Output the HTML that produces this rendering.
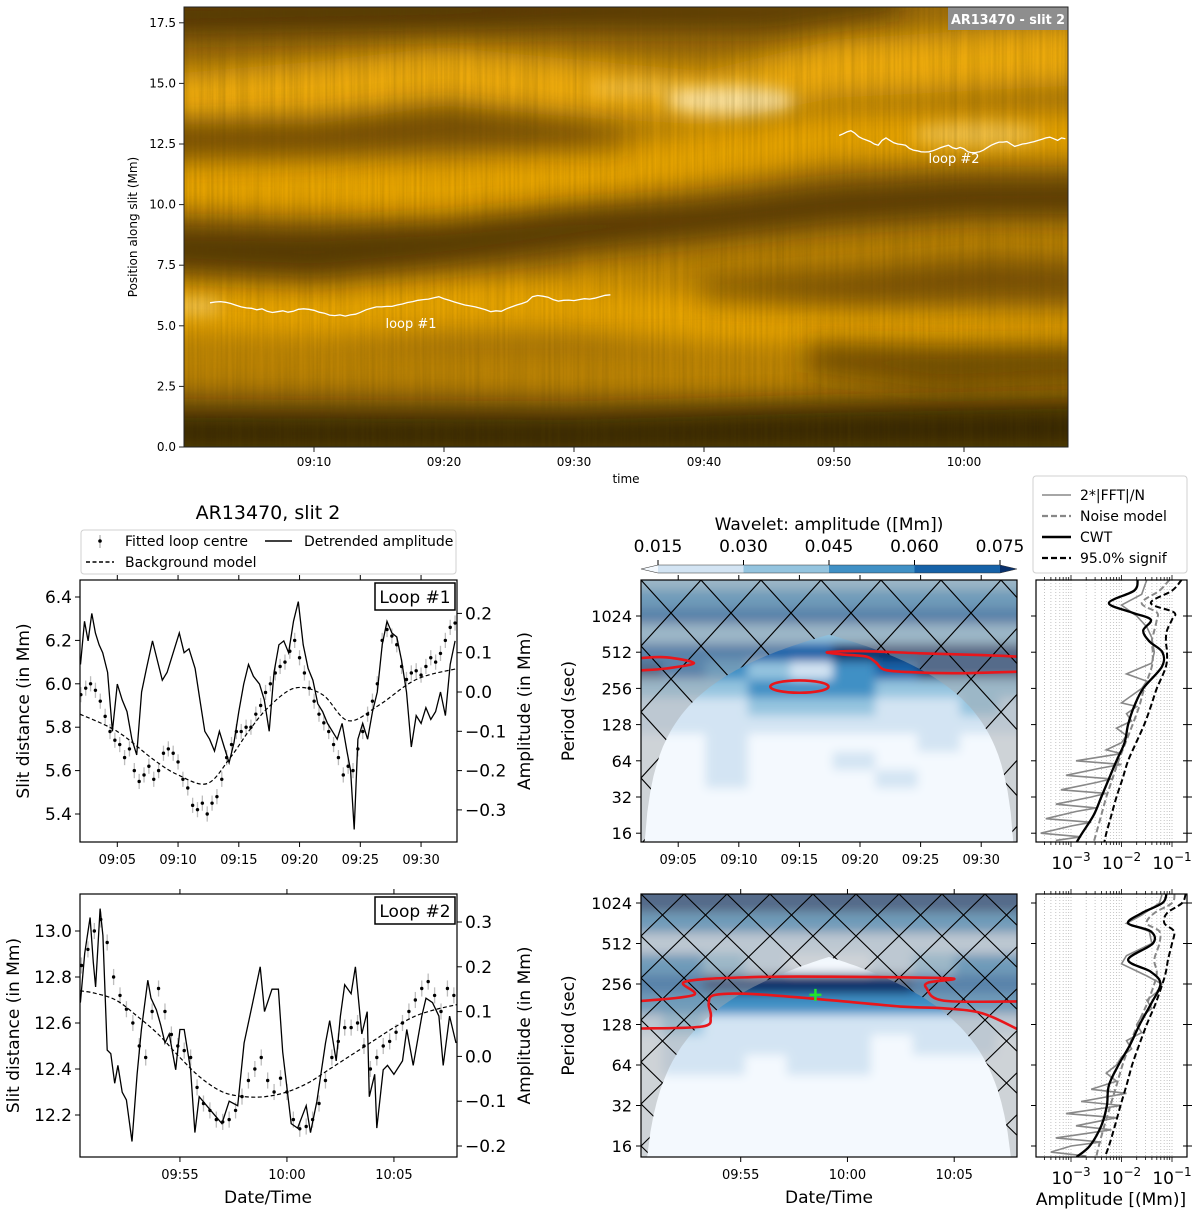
<!DOCTYPE html>
<html><head><meta charset="utf-8">
<style>
html,body{margin:0;padding:0;background:#fff;}
svg{display:block;font-family:"DejaVu Sans","Liberation Sans",sans-serif;}
</style></head>
<body>
<svg id="fig" width="1200" height="1213" viewBox="0 0 1200 1213" xmlns="http://www.w3.org/2000/svg">
<defs>
  <filter id="blurBig" filterUnits="userSpaceOnUse" x="0" y="-100" width="1200" height="700"><feGaussianBlur stdDeviation="14"/></filter>
  <filter id="blurW" filterUnits="userSpaceOnUse" x="0" y="-100" width="1200" height="700"><feGaussianBlur stdDeviation="8"/></filter>
  <filter id="blurWav" filterUnits="userSpaceOnUse" x="500" y="500" width="700" height="713"><feGaussianBlur stdDeviation="5"/></filter>
  <filter id="streaks" x="0" y="0" width="100%" height="100%">
    <feTurbulence type="fractalNoise" baseFrequency="0.35 0.006" numOctaves="2" seed="4"/>
    <feColorMatrix type="matrix" values="0 0 0 0 0.1  0 0 0 0 0.06  0 0 0 0 0  0 0 0 -1.1 0.75"/>
  </filter>
  <clipPath id="clipTop"><rect x="184" y="7" width="884" height="440"/></clipPath>
  <clipPath id="clipL1"><rect x="80" y="580" width="377" height="262"/></clipPath>
  <clipPath id="clipL2"><rect x="80" y="894" width="377" height="263"/></clipPath>
  <clipPath id="clipW1"><rect x="641" y="580" width="376" height="262"/></clipPath>
  <clipPath id="clipW2"><rect x="641" y="894" width="376" height="263"/></clipPath>
  <clipPath id="clipS1"><rect x="1036" y="580" width="151" height="262"/></clipPath>
  <clipPath id="clipS2"><rect x="1036" y="894" width="151" height="263"/></clipPath>
  <pattern id="hatch1" patternUnits="userSpaceOnUse" x="641" y="580" width="60" height="66">
    <path d="M0,0 L60,66 M60,0 L0,66" stroke="#000" stroke-width="1.1" fill="none"/>
  </pattern>
  <pattern id="hatch2" patternUnits="userSpaceOnUse" x="641" y="894" width="43" height="42">
    <path d="M0,0 L43,42 M43,0 L0,42" stroke="#000" stroke-width="1.1" fill="none"/>
  </pattern>
</defs>
</svg>
<script>
// ---------------- DATA ----------------
const loop1Times = [2.0,2.4,2.8,3.2,3.6,4.0,4.4,4.8,5.2,5.6,6.0,6.4,6.8,7.2,7.6,8.0,8.4,8.8,9.2,9.6,10.0,10.4,10.8,11.2,11.6,12.0,12.4,12.8,13.2,13.6,14.0,14.4,14.8,15.2,15.6,16.0,16.4,16.8,17.2,17.6,18.0,18.4,18.8,19.2,19.6,20.0,20.4,20.8,21.2,21.6,22.0,22.4,22.8,23.2,23.6,24.0,24.4,24.8,25.2,25.6,26.0,26.4,26.8,27.2,27.6,28.0,28.4,28.8,29.2,29.6,30.0,30.4,30.8,31.2,31.6,32.0,32.4,32.8];
const loop1Pos = [5.95,5.98,6.00,5.97,5.92,5.85,5.78,5.74,5.72,5.66,5.70,5.60,5.55,5.58,5.62,5.56,5.60,5.68,5.70,5.68,5.64,5.56,5.52,5.44,5.42,5.45,5.40,5.45,5.48,5.56,5.66,5.72,5.78,5.78,5.80,5.80,5.86,5.90,5.96,6.00,6.05,6.08,6.10,6.15,6.20,6.12,6.05,5.98,5.92,5.86,5.82,5.78,5.72,5.66,5.58,5.62,5.60,5.70,5.78,5.86,5.92,6.00,6.20,6.25,6.22,6.18,6.08,6.02,6.05,6.06,6.04,6.08,6.12,6.10,6.14,6.20,6.26,6.28];
const loop1BgTimes = [1.93,5,8,10,12.4,14.3,15.8,17.4,19.6,21.9,24,26.5,29.6,32.95];
const loop1Bg = [5.86,5.78,5.65,5.58,5.54,5.66,5.78,5.89,5.98,5.95,5.83,5.90,6.02,6.07];
const loop1DetT = [1.97,2.3,2.6,2.9,3.2,3.5,3.8,4.2,4.6,5.0,5.4,5.8,6.2,6.6,7.0,7.4,7.9,8.3,8.7,9.1,9.6,10.1,10.5,10.9,11.4,11.8,12.2,12.6,13.0,13.4,13.8,14.2,14.6,15.0,15.4,15.8,16.2,16.7,17.1,17.5,17.9,18.3,18.7,19.1,19.5,19.9,20.3,20.7,21.1,21.5,21.9,22.3,22.7,23.1,23.5,23.9,24.2,24.5,24.8,25.2,25.6,26.0,26.4,26.8,27.2,27.6,28.0,28.4,28.8,29.2,29.6,30.0,30.4,30.8,31.2,31.6,32.0,32.4,32.8];
const loop1Det = [0.07,0.18,0.13,0.2,0.15,0.12,0.1,0.05,-0.10,0.02,-0.02,-0.05,-0.12,-0.16,0.0,0.06,0.13,0.08,0.03,0.05,0.10,0.15,0.10,0.11,0.06,-0.02,-0.10,-0.12,-0.15,-0.10,-0.14,-0.18,-0.13,-0.05,0.02,0.07,0.04,0.02,-0.02,-0.10,0.05,0.12,0.13,0.10,0.18,0.23,0.12,0.06,0.03,-0.03,-0.05,-0.08,-0.10,-0.12,-0.08,-0.15,-0.20,-0.35,-0.12,-0.08,-0.12,-0.05,0.0,0.12,0.18,0.15,0.14,0.08,0.0,-0.14,-0.06,-0.08,-0.04,-0.07,-0.05,0.0,-0.06,0.07,0.13];
const loop2Times = [50.4,50.7,51.0,51.3,51.6,51.9,52.2,52.5,52.8,53.1,53.4,53.7,54.0,54.3,54.6,54.9,55.2,55.5,55.8,56.1,56.4,56.7,57.0,57.3,57.6,57.9,58.2,58.5,58.8,59.1,59.4,59.7,60.0,60.3,60.6,60.9,61.2,61.5,61.8,62.1,62.4,62.7,63.0,63.3,63.6,63.9,64.2,64.5,64.8,65.1,65.4,65.7,66.0,66.3,66.6,66.9,67.2,67.5,67.8];
const loop2Pos = [12.85,12.92,13.00,13.05,12.95,12.80,12.72,12.66,12.60,12.50,12.45,12.65,12.75,12.65,12.55,12.50,12.48,12.45,12.32,12.25,12.22,12.18,12.17,12.18,12.22,12.28,12.35,12.40,12.45,12.35,12.30,12.36,12.30,12.18,12.14,12.15,12.18,12.25,12.35,12.45,12.52,12.58,12.58,12.60,12.50,12.40,12.45,12.50,12.52,12.56,12.60,12.65,12.70,12.75,12.78,12.72,12.65,12.75,12.72];
const loop2BgTimes = [50.33,51,52,53,54,55,56,57,58,59,60,61,62,63,64,65,66,67,67.94];
const loop2Bg = [12.74,12.73,12.70,12.63,12.55,12.45,12.36,12.30,12.28,12.28,12.30,12.34,12.40,12.46,12.52,12.58,12.63,12.66,12.68];
const loop2DetT = [50.35,50.55,50.8,50.95,51.06,51.27,51.4,51.6,51.77,51.95,52.1,52.3,52.5,52.76,53.0,53.2,53.5,53.65,53.9,54.1,54.3,54.5,54.8,55.0,55.2,55.5,55.7,55.9,56.25,56.6,56.96,57.3,57.7,58.0,58.4,58.75,58.95,59.3,59.6,59.8,60.2,60.5,60.9,61.1,61.4,61.8,62.0,62.3,62.5,62.7,63.0,63.2,63.5,63.75,63.85,64.1,64.2,64.5,64.7,65.0,65.4,65.6,65.9,66.3,66.5,66.8,67.1,67.3,67.6,67.9];
const loop2Det = [0.12,0.23,0.31,0.21,0.155,0.33,0.27,0.014,0.006,-0.06,-0.02,-0.08,-0.097,-0.19,-0.04,0.06,0.17,0.13,0.104,0.07,0.03,0.05,-0.03,0.06,0.06,-0.03,-0.17,-0.09,-0.11,-0.13,-0.15,-0.10,-0.11,0.03,0.12,0.2,0.1,0.15,0.15,0.01,-0.15,-0.16,-0.11,-0.17,-0.1,0.03,0.08,-0.01,0.09,0.16,0.14,0.2,0.05,0.1,-0.09,-0.04,-0.16,-0.03,-0.02,-0.04,-0.01,0.06,-0.02,0.09,0.13,0.12,0.09,-0.02,0.09,0.03];

const wavRows = [11,10.5,10,9.5,9,8.5,8,7.5,7,6.5,6,5.5,5,4.5,4,3.5];
const wav1Cols = [2,5.5,9,12.5,16,19.5,23,26.5,30,33];
const wav1Amp = [
 [.04,.04,.04,.04,.04,.04,.04,.04,.04,.04],
 [.05,.05,.05,.05,.05,.05,.05,.05,.05,.05],
 [.065,.065,.065,.065,.065,.065,.065,.065,.065,.065],
 [.035,.035,.04,.04,.04,.04,.04,.04,.04,.04],
 [.065,.065,.065,.065,.07,.08,.08,.08,.08,.08],
 [.08,.07,.05,.04,.02,.05,.07,.08,.08,.08],
 [.03,.035,.04,.045,.05,.045,.035,.03,.03,.03],
 [.02,.02,.02,.03,.03,.03,.02,.02,.03,.02],
 [.015,.015,.02,.02,.02,.02,.02,.015,.015,.015],
 [.01,.012,.02,.01,.01,.01,.01,.02,.01,.01],
 [.01,.01,.02,.01,.01,.02,.01,.01,.01,.01],
 [.01,.01,.02,.01,.01,.01,.02,.01,.01,.01],
 [.01,.01,.01,.01,.01,.01,.01,.01,.01,.01],
 [.01,.01,.01,.01,.01,.01,.01,.01,.01,.01],
 [.01,.01,.01,.01,.01,.01,.01,.01,.01,.01],
 [.01,.01,.01,.01,.01,.01,.01,.01,.01,.01]];
const wav2Cols = [50.33,52.3,54.2,56.2,58.1,60.1,62.1,64.0,66.0,67.94];
const wav2Amp = [
 [.08,.08,.08,.08,.08,.08,.08,.08,.08,.08],
 [.08,.08,.08,.08,.08,.08,.08,.08,.08,.08],
 [.075,.075,.075,.075,.075,.075,.075,.075,.075,.075],
 [.05,.05,.05,.05,.05,.05,.05,.05,.05,.05],
 [.02,.02,.02,.02,.02,.02,.02,.02,.02,.02],
 [.05,.05,.04,.02,.01,.01,.02,.04,.05,.05],
 [.065,.07,.075,.08,.08,.08,.075,.07,.065,.065],
 [.05,.05,.05,.055,.05,.05,.05,.05,.045,.045],
 [.02,.03,.02,.02,.02,.015,.02,.02,.02,.02],
 [.01,.02,.02,.015,.02,.02,.01,.02,.02,.01],
 [.01,.02,.02,.01,.02,.02,.01,.01,.01,.01],
 [.01,.01,.01,.01,.01,.01,.01,.01,.01,.01],
 [.01,.01,.01,.01,.01,.01,.01,.01,.01,.01],
 [.01,.01,.01,.01,.01,.01,.01,.01,.01,.01],
 [.01,.01,.01,.01,.01,.01,.01,.01,.01,.01],
 [.01,.01,.01,.01,.01,.01,.01,.01,.01,.01]];
const sig1A_t = [1.93,4,6.3,4,1.93];
const sig1A_p = [8.84,8.86,8.7,8.55,8.5];
const sig1B_t = [32.95,30,25,20,17.3,18.5,20.5,21.3,22,24,28,32.95];
const sig1B_p = [8.88,8.92,8.97,9.03,9.0,8.94,8.88,8.72,8.52,8.45,8.42,8.46];
const sig1C = [15.0, 8.05, 2.4, 0.17];
const sig2Up_t = [50.33,52.8,52.4,55.6,59.2,64.8,63.8,63.7,64.5,67.94];
const sig2Up_p = [7.58,7.73,8.06,8.17,8.18,8.14,8.04,7.9,7.59,7.57];
const sig2Lo_t = [67.94,66.3,64.5,62.6,59.2,55.6,53.8,53.5,53.6,53.2,50.33];
const sig2Lo_p = [6.89,7.28,7.40,7.44,7.6,7.75,7.73,7.52,7.19,6.95,6.9];
const peak2 = [58.5, 7.73];

const spec1P = [11,10.7,10.36,10.1,9.9,9.6,9.3,9.0,8.6,8.0,7.5,7.0,6.5,6.0,5.5,5.0,4.5,4.0,3.75];
const spec1Cwt = [-1.68,-1.75,-2.25,-1.8,-1.42,-1.57,-1.45,-1.19,-1.2,-1.57,-1.75,-1.87,-1.94,-2.10,-2.25,-2.40,-2.55,-2.78,-2.89];
const spec1Sig = [-0.81,-1.0,-1.42,-0.96,-1.0,-1.1,-1.12,-1.1,-1.12,-1.3,-1.42,-1.55,-1.71,-1.87,-1.98,-2.1,-2.2,-2.3,-2.34];
const spec1Noise = [-1.05,-1.25,-1.6,-1.3,-1.3,-1.35,-1.4,-1.38,-1.4,-1.55,-1.65,-1.78,-1.92,-2.06,-2.18,-2.3,-2.4,-2.5,-2.55];
const fft1P = [11,10.6,10.3,10.0,9.7,9.4,9.0,8.7,8.4,8.2,8.0,7.8,7.6,7.5,7.3,7.1,6.9,6.7,6.5,6.3,6.2,6.0,5.9,5.8,5.6,5.5,5.4,5.2,5.1,5.0,4.8,4.7,4.6,4.4,4.3,4.2,4.0,3.9,3.8];
const fft1A = [-1.5,-1.6,-2.0,-1.7,-1.5,-1.4,-1.35,-1.4,-1.9,-1.5,-1.6,-1.8,-2.0,-1.7,-1.9,-1.8,-2.1,-1.9,-2.0,-2.3,-2.0,-2.9,-2.0,-2.4,-3.1,-2.2,-2.5,-3.2,-2.3,-2.6,-3.3,-2.5,-2.9,-3.5,-2.6,-3.0,-3.6,-2.8,-3.3];
const spec2P = [10.22,10.0,9.75,9.5,9.3,9.0,8.6,8.3,8.0,7.5,7.0,6.5,6.0,5.5,5.0,4.5,4.0,3.73];
const spec2Cwt = [-1.11,-1.19,-1.6,-1.87,-1.42,-1.38,-1.87,-1.42,-1.23,-1.42,-1.64,-1.83,-2.06,-2.25,-2.29,-2.40,-2.63,-2.89];
const spec2Sig = [-0.73,-0.8,-1.1,-1.15,-0.96,-1.0,-1.08,-1.12,-1.19,-1.33,-1.5,-1.65,-1.79,-1.9,-2.02,-2.13,-2.25,-2.33];
const spec2Noise = [-0.95,-1.0,-1.35,-1.5,-1.25,-1.25,-1.35,-1.3,-1.35,-1.5,-1.68,-1.84,-1.98,-2.1,-2.22,-2.34,-2.45,-2.5];
const fft2P = [10.2,10.0,9.7,9.5,9.3,9.0,8.7,8.5,8.2,8.0,7.8,7.6,7.4,7.2,7.0,6.8,6.6,6.4,6.2,6.0,5.8,5.6,5.4,5.3,5.1,5.0,4.8,4.7,4.5,4.4,4.2,4.1,4.0,3.85,3.75];
const fft2A = [-1.2,-1.25,-1.6,-1.9,-1.45,-1.4,-1.9,-2.0,-1.5,-1.2,-1.3,-1.5,-1.4,-1.6,-1.7,-1.6,-1.9,-1.8,-2.0,-2.1,-2.3,-2.1,-2.6,-1.9,-2.8,-2.0,-3.1,-2.1,-2.9,-2.2,-3.3,-2.4,-3.0,-3.4,-2.7];

const topXTicks = [10,20,30,40,50,60];
const topXLabels = ['09:10','09:20','09:30','09:40','09:50','10:00'];
const topYTicks = [0,2.5,5,7.5,10,12.5,15,17.5];
const l1XTicks = [5,10,15,20,25,30];
const l1XLabels = ['09:05','09:10','09:15','09:20','09:25','09:30'];
const l2XTicks = [55,60,65];
const l2XLabels = ['09:55','10:00','10:05'];
const l1YTicks = [5.4,5.6,5.8,6.0,6.2,6.4];
const l1RTicks = [-0.3,-0.2,-0.1,0.0,0.1,0.2];
const l2YTicks = [12.2,12.4,12.6,12.8,13.0];
const l2RTicks = [-0.2,-0.1,0.0,0.1,0.2,0.3];
const periodTicks = [16,32,64,128,256,512,1024];
const cbarTicks = [0.015,0.030,0.045,0.060,0.075];

// ---------------- HELPERS ----------------
const NS='http://www.w3.org/2000/svg';
const svg=document.getElementById('fig');
function mk(tag,attrs,parent){const e=document.createElementNS(NS,tag);for(const k in attrs)e.setAttribute(k,attrs[k]);(parent||svg).appendChild(e);return e;}
function txt(s,x,y,size,anchor,parent,extra){const e=mk('text',Object.assign({x:x,y:y,'font-size':size,'text-anchor':anchor||'start',fill:'#000'},extra||{}),parent);e.textContent=s;return e;}
function fmt(v,d){const s=Math.abs(v).toFixed(d);return (v<-1e-9?'\u2212':'')+s;}
function pts(xs,ys,fx,fy){return xs.map((v,i)=>fx(v).toFixed(1)+','+fy(ys[i]).toFixed(1)).join(' ');}
function smoothPath(P){let d='M'+P[0][0]+','+P[0][1];for(let i=0;i<P.length-1;i++){const p0=P[Math.max(0,i-1)],p1=P[i],p2=P[i+1],p3=P[Math.min(P.length-1,i+2)];const c1x=p1[0]+(p2[0]-p0[0])/6,c1y=p1[1]+(p2[1]-p0[1])/6,c2x=p2[0]-(p3[0]-p1[0])/6,c2y=p2[1]-(p3[1]-p1[1])/6;d+=' C'+c1x.toFixed(1)+','+c1y.toFixed(1)+' '+c2x.toFixed(1)+','+c2y.toFixed(1)+' '+p2[0].toFixed(1)+','+p2[1].toFixed(1);}return d;}
function ampColor(a){if(a<0.015)return '#f4f9fe';if(a<0.03)return '#d3e4f3';if(a<0.045)return '#94c4df';if(a<0.06)return '#4090c5';if(a<0.075)return '#1662a8';return '#08306b';}

// ---------------- TOP PANEL ----------------
const TX=t=>184+t*13.0, TY=v=>447-v*24.24;
const gTop=mk('g',{'clip-path':'url(#clipTop)'});


mk('rect',{x:184,y:7,width:884,height:440,fill:'#9a6a0a'},gTop);
const imgBands=[
 {c:'#f0aa06',o:0.9,p:[[-3,5.8,1.3],[10,5.5,1.2],[20,5.9,1.2],[30,5.9,1.2],[40,5.3,1.2],[50,4.9,1.0],[72,4.6,0.9]]},
 {c:'#f0aa06',o:0.9,p:[[-3,11,1.2],[10,10.8,1.3],[20,10.6,1.3],[30,11.2,1.2],[40,12.0,1.2],[50,12.8,1.1],[72,12.9,1.0]]},
 {c:'#f5b108',o:0.9,p:[[-3,14.3,1.0],[10,14.6,1.3],[20,15.3,1.2],[30,14.8,1.2],[40,14.4,1.1],[50,15.6,1.2],[72,16.3,1.3]]},
 {c:'#d99a05',o:0.55,p:[[-3,3.5,1],[20,3.2,0.8],[40,3.0,1],[60,2.8,0.8],[72,2.6,0.8]]},
 {c:'#d99a05',o:0.55,p:[[30,7.0,0.8],[45,7.6,0.9],[60,8.3,0.8],[72,8.5,0.8]]},
 {c:'#2e1c00',o:0.7,p:[[-3,17.8,0.8],[20,18.0,0.8],[30,18.0,0.7],[45,17.9,0.6],[55,18.5,0.5]]},
 {c:'#3a2400',o:0.45,p:[[-3,12.6,0.8],[10,12.8,0.8],[20,13.3,0.7],[30,12.9,0.5],[34,12.6,0.3]]},
 {c:'#2e1c00',o:0.65,p:[[-3,8.2,0.9],[10,8.0,1.0],[20,8.4,0.9],[30,9.0,0.8],[40,9.4,0.7],[50,10.0,0.7],[60,10.3,0.7],[72,10.3,0.7]]},
 {c:'#1e1200',o:0.8,p:[[-3,0.6,1.0],[30,0.5,1.0],[50,0.7,1.1],[72,0.8,1.2]]},
 {c:'#2e1c00',o:0.55,p:[[48,3.7,0.6],[58,3.3,0.9],[72,3.5,0.8]]},
 {c:'#3a2400',o:0.4,p:[[40,6.5,0.5],[52,6.6,0.7],[62,7.0,0.8],[72,6.8,0.6]]}
];
imgBands.forEach(b=>{
  const top=b.p.map(q=>[TX(q[0]),TY(q[1]+q[2])]);
  const bot=b.p.slice().reverse().map(q=>[TX(q[0]),TY(q[1]-q[2])]);
  const d='M'+top.concat(bot).map(q=>q[0].toFixed(1)+','+q[1].toFixed(1)).join(' L')+'Z';
  const e=mk('path',{d:d,fill:b.c,opacity:b.o,filter:'url(#blurBig)'},gTop);
  
  
});
[[42,14.3,5,0.6,0.75],[61,12.9,5,0.5,0.35],[1,5.8,2,0.35,0.4],[35,14.8,4,0.3,0.3]].forEach(h=>{
  const e=mk('ellipse',{cx:TX(h[0]),cy:TY(h[1]),rx:h[2]*13,ry:h[3]*24,fill:'#fff3cc',opacity:h[4],filter:'url(#blurW)'},gTop);
  
  
});
mk('rect',{x:184,y:7,width:884,height:440,filter:'url(#streaks)',opacity:0.3},gTop);
const l1Top=mk('polyline',{points:pts(loop1Times,loop1Pos,TX,TY),fill:'none',stroke:'#fff','stroke-width':1.3},gTop);


const l2Top=mk('polyline',{points:pts(loop2Times,loop2Pos,TX,TY),fill:'none',stroke:'#fff','stroke-width':1.3},gTop);


let e;
e=txt('loop #1',411,328,13,'middle',gTop,{fill:'#fff'});


e=txt('loop #2',954,163,13,'middle',gTop,{fill:'#fff'});


e=mk('rect',{x:948,y:7,width:120,height:23,fill:'#8e8e8e'});


e=txt('AR13470 - slit 2',1008,24,13,'middle',null,{fill:'#fff','font-weight':'bold',textLength:114,lengthAdjust:'spacingAndGlyphs'});


e=mk('rect',{x:184,y:7,width:884,height:440,fill:'none',stroke:'#222','stroke-width':1});


topXTicks.forEach((t,i)=>{
  const k=mk('line',{x1:TX(t),x2:TX(t),y1:447,y2:452,stroke:'#222'});
  
  
  const l=txt(topXLabels[i],TX(t),466,12,'middle');
  
  
});
topYTicks.forEach(v=>{
  const k=mk('line',{x1:179,x2:184,y1:TY(v),y2:TY(v),stroke:'#222'});
  
  
  const l=txt(v.toFixed(1),176,TY(v)+4,12,'end');
  
  
});
e=txt('time',626,483,12,'middle');


e=txt('Position along slit (Mm)',0,0,12,'middle',null,{transform:'translate(137,227) rotate(-90)'});



// ---------------- LEFT TIME-SERIES PANELS ----------------
function loopPanel(cfg){
  const {x0,x1,y0,y1,X,YL,YR,times,pos,bgT,bg,detT,det,clip,name}=cfg;
  const g=mk('g',{'clip-path':'url('+clip+')'});
  
  
  times.forEach((t,i)=>{
    const eb=mk('line',{x1:X(t),x2:X(t),y1:YL(pos[i]+0.035),y2:YL(pos[i]-0.035),stroke:'#bdbdbd','stroke-width':1.3},g);
    
    
  });
  const bgl=mk('path',{d:smoothPath(bgT.map((t,i)=>[X(t),YL(bg[i])])),fill:'none',stroke:'#000','stroke-width':1.2,'stroke-dasharray':'4,2.5'},g);
  
  
  const dl=mk('polyline',{points:pts(detT,det,X,YR),fill:'none',stroke:'#000','stroke-width':1.3},g);
  
  
  times.forEach((t,i)=>{
    const d=mk('circle',{cx:X(t),cy:YL(pos[i]),r:1.7,fill:'#000'},g);
    
    
  });
  const fr=mk('rect',{x:x0,y:y0,width:x1-x0,height:y1-y0,fill:'none',stroke:'#000','stroke-width':1.2});
  
  
  cfg.xt.forEach((t,i)=>{
    const a=mk('line',{x1:X(t),x2:X(t),y1:y1,y2:y1+5,stroke:'#000'});
    
    
    const b=mk('line',{x1:X(t),x2:X(t),y1:y0,y2:y0-5,stroke:'#000'});
    
    
    const l=txt(cfg.xl[i],X(t),y1+22,13,'middle');
    
    
  });
  cfg.yt.forEach(v=>{
    const a=mk('line',{x1:x0-5,x2:x0,y1:YL(v),y2:YL(v),stroke:'#000'});
    
    
    const l=txt(v.toFixed(1),x0-8,YL(v)+6,17,'end');
    
    
  });
  cfg.rt.forEach(v=>{
    const a=mk('line',{x1:x1,x2:x1+5,y1:YR(v),y2:YR(v),stroke:'#000'});
    
    
    const l=txt(fmt(v,1),x1+8,YR(v)+6,17,'start');
    
    
  });
  const lb=mk('rect',{x:x1-82,y:y0+3,width:80,height:27,fill:'#fff',stroke:'#000','stroke-width':1.5});
  
  
  const lt=txt(cfg.label,x1-42,y0+23,17,'middle');
  
  
  const yt=txt('Slit distance (in Mm)',0,0,17,'middle',null,{transform:'translate('+cfg.ytx+','+((y0+y1)/2)+') rotate(-90)'});
  
  
  const rt=txt('Amplitude (in Mm)',0,0,17,'middle',null,{transform:'translate(530,'+((y0+y1)/2)+') rotate(-90)'});
  
  
}
loopPanel({name:'loop-1-timeseries',x0:80,x1:457,y0:580,y1:842,X:t=>80+(t-1.93)*12.15,YL:v=>597+(6.4-v)*217,YR:a=>692-a*393,
  times:loop1Times,pos:loop1Pos,bgT:loop1BgTimes,bg:loop1Bg,detT:loop1DetT,det:loop1Det,clip:'#clipL1',xt:l1XTicks,xl:l1XLabels,yt:l1YTicks,rt:l1RTicks,label:'Loop #1',ytx:29});
loopPanel({name:'loop-2-timeseries',x0:80,x1:457,y0:894,y1:1157,X:t=>80+(t-50.33)*21.4,YL:v=>931+(13.0-v)*230,YR:a=>922+(0.3-a)*448,
  times:loop2Times,pos:loop2Pos,bgT:loop2BgTimes,bg:loop2Bg,detT:loop2DetT,det:loop2Det,clip:'#clipL2',xt:l2XTicks,xl:l2XLabels,yt:l2YTicks,rt:l2RTicks,label:'Loop #2',ytx:19});
e=txt('AR13470, slit 2',268,519,19,'middle');


e=txt('Date/Time',268,1203,17,'middle');


const lg=mk('g',{});


mk('rect',{x:81,y:530,width:375,height:44,rx:3,fill:'#fff',stroke:'#d0d0d0'},lg);
mk('line',{x1:100,x2:100,y1:535,y2:548,stroke:'#aaa','stroke-width':1.2},lg);
mk('circle',{cx:100,cy:541,r:1.8,fill:'#000'},lg);
e=txt('Fitted loop centre',125,546,14,'start',lg);


mk('line',{x1:265,x2:292,y1:541,y2:541,stroke:'#000','stroke-width':1.5},lg);
e=txt('Detrended amplitude',304,546,14,'start',lg);


mk('line',{x1:86,x2:114,y1:562,y2:562,stroke:'#000','stroke-width':1.5,'stroke-dasharray':'4,2.5'},lg);
e=txt('Background model',125,567,14,'start',lg);



// ---------------- WAVELET PANELS ----------------
function wavPanel(cfg){
  const {y0,y1,X,Y,t0,t1,cols,amp,clip,hatch,name}=cfg;
  const x0=641,x1=1017;
  const g=mk('g',{'clip-path':'url('+clip+')'});
  
  
  const gb=mk('g',{filter:'url(#blurWav)'},g);
  wavRows.forEach((r,ri)=>{
    const ya=Y(r+0.25), yb=Y(r-0.25);
    cols.forEach((c,ci)=>{
      let xa=ci===0?x0-30:(X(cols[ci-1])+X(c))/2;
      let xb=ci===cols.length-1?x1+30:(X(c)+X(cols[ci+1]))/2;
      const cell=mk('rect',{x:xa.toFixed(1),y:(ri===0?ya-30:ya).toFixed(1),width:(xb-xa+0.5).toFixed(1),height:(yb-ya+(ri===0?30:0)+(ri===wavRows.length-1?30:0)+0.5).toFixed(1),fill:ampColor(amp[ri][ci])},gb);
      
      
    });
  });
  const coi=[];
  for(let k=0;k<=120;k++){const t=t0+(t1-t0)*k/120;const dt=Math.min(t-t0,t1-t)*60*0.77;let y=dt>0?Y(Math.log2(dt)):y1+10;coi.push([X(t),Math.min(y,y1+10)]);}
  const d='M'+(x0)+','+(y1+10)+' L'+coi.map(p=>p[0].toFixed(1)+','+p[1].toFixed(1)).join(' L')+' L'+x1+','+(y1+10)+' L'+(x1+5)+','+(y0-5)+' L'+(x0-5)+','+(y0-5)+'Z';
  const gr=mk('path',{d:d,fill:'#a6a9ad',opacity:0.48},g);
  
  
  const ht=mk('path',{d:d,fill:'url('+hatch+')'},g);
  
  
  cfg.sig.forEach(s=>{
    const p=mk('path',{d:smoothPath(s[0].map((t,i)=>[X(t),Y(s[1][i])])),fill:'none',stroke:'#e8161b','stroke-width':2.6},g);
    
    
  });
  if(cfg.ell){const c=cfg.ell;const el=mk('ellipse',{cx:X(c[0]),cy:Y(c[1]),rx:c[2]*(X(1)-X(0)),ry:c[3]*(Y(0)-Y(1)),fill:'none',stroke:'#e8161b','stroke-width':2.6},g);
    
    }
  if(cfg.peak){const px=X(cfg.peak[0]),py=Y(cfg.peak[1]);
    const pk=mk('path',{d:'M'+(px-6)+','+py+' H'+(px+6)+' M'+px+','+(py-6)+' V'+(py+6),stroke:'#22e52a','stroke-width':2.5},g);
    
    }
  const fr=mk('rect',{x:x0,y:y0,width:x1-x0,height:y1-y0,fill:'none',stroke:'#000','stroke-width':1.2});
  
  
  cfg.xt.forEach((t,i)=>{
    const a=mk('line',{x1:X(t),x2:X(t),y1:y1,y2:y1+5,stroke:'#000'});
    
    
    const b=mk('line',{x1:X(t),x2:X(t),y1:y0,y2:y0-5,stroke:'#000'});
    
    
    const l=txt(cfg.xl[i],X(t),y1+22,13,'middle');
    
    
  });
  periodTicks.forEach(p=>{
    const y=Y(Math.log2(p));
    const a=mk('line',{x1:x0-5,x2:x0,y1:y,y2:y,stroke:'#000'});
    
    
    const l=txt(String(p),x0-9,y+6,16,'end');
    
    
  });
  const yt=txt('Period (sec)',0,0,17,'middle',null,{transform:'translate(574,'+((y0+y1)/2)+') rotate(-90)'});
  
  
}
wavPanel({name:'wavelet-loop-1',y0:580,y1:842,X:t=>641+(t-1.93)*12.12,Y:l=>616+(10-l)*36.2,t0:1.93,t1:32.95,cols:wav1Cols,amp:wav1Amp,clip:'#clipW1',hatch:'#hatch1',
  sig:[[sig1A_t,sig1A_p],[sig1B_t,sig1B_p]],ell:sig1C,xt:l1XTicks,xl:l1XLabels});
wavPanel({name:'wavelet-loop-2',y0:894,y1:1157,X:t=>641+(t-50.33)*21.35,Y:l=>903+(10-l)*40.5,t0:50.33,t1:67.94,cols:wav2Cols,amp:wav2Amp,clip:'#clipW2',hatch:'#hatch2',
  sig:[[sig2Up_t,sig2Up_p],[sig2Lo_t,sig2Lo_p]],peak:peak2,xt:l2XTicks,xl:l2XLabels});
e=txt('Date/Time',829,1203,17,'middle');


const CB=v=>658+(v-0.015)*(342/0.06);
const cb=mk('g',{});


mk('path',{d:'M641,569 L658,565 L658,573Z',fill:'#f4f9fe'},cb);
const cbCols=['#d3e4f3','#94c4df','#4090c5','#1662a8'];
cbarTicks.slice(0,4).forEach((v,i)=>{
  const r=mk('rect',{x:CB(v),y:565,width:CB(cbarTicks[i+1])-CB(v),height:8,fill:cbCols[i]},cb);
  
  
});
mk('path',{d:'M1000,565 L1017,569 L1000,573Z',fill:'#08306b'},cb);
mk('path',{d:'M641,569 L658,565 L1000,565 L1017,569 L1000,573 L658,573Z',fill:'none',stroke:'#333','stroke-width':0.6},cb);
cbarTicks.forEach(v=>{
  const k=mk('line',{x1:CB(v),x2:CB(v),y1:560,y2:565,stroke:'#000'},cb);
  
  
  const l=txt(v.toFixed(3),CB(v),552,17,'middle',cb);
  
  
});
e=txt('Wavelet: amplitude ([Mm])',829,530,17,'middle');



// ---------------- SPECTRUM PANELS ----------------
const SX=lg=>1071+(lg+3)*50.5;
function specPanel(cfg){
  const {y0,y1,Y,clip,name}=cfg;
  const g=mk('g',{'clip-path':'url('+clip+')'});
  
  
  for(let dec=-4;dec<=-1;dec++){for(let k=1;k<=9;k++){const x=SX(dec+Math.log10(k));
    const gl=mk('line',{x1:x,x2:x,y1:y0,y2:y1,stroke:'#b5b5b5','stroke-width':0.8,'stroke-dasharray':'1,2'},g);
    
    }}
  const f=mk('polyline',{points:pts(cfg.fftA,cfg.fftP,SX,Y),fill:'none',stroke:'#888','stroke-width':1.6},g);
  
  
  const n=mk('path',{d:smoothPath(cfg.P.map((p,i)=>[SX(cfg.noise[i]),Y(p)])),fill:'none',stroke:'#888','stroke-width':2,'stroke-dasharray':'6,3'},g);
  
  
  const c=mk('path',{d:smoothPath(cfg.P.map((p,i)=>[SX(cfg.cwt[i]),Y(p)])),fill:'none',stroke:'#000','stroke-width':2.3},g);
  
  
  const s=mk('path',{d:smoothPath(cfg.P.map((p,i)=>[SX(cfg.sig[i]),Y(p)])),fill:'none',stroke:'#000','stroke-width':2,'stroke-dasharray':'6,3'},g);
  
  
  const fr=mk('rect',{x:1036,y:y0,width:151,height:y1-y0,fill:'none',stroke:'#000','stroke-width':1.2});
  
  
  for(let dec=-4;dec<=-1;dec++){for(let k=1;k<=9;k++){const x=SX(dec+Math.log10(k));if(x<1036||x>1187)continue;const L=k===1?5:3;
    const a=mk('line',{x1:x,x2:x,y1:y1,y2:y1+L,stroke:'#000','stroke-width':0.8});
    
    
    const b=mk('line',{x1:x,x2:x,y1:y0,y2:y0-L,stroke:'#000','stroke-width':0.8});
    
    }}
  [-3,-2,-1].forEach(d=>{
    const t=mk('text',{x:SX(d),y:y1+27,'font-size':17,'text-anchor':'middle',fill:'#000'});
    
    
    t.textContent='10';
    const sp=document.createElementNS(NS,'tspan');sp.setAttribute('dy','-8');sp.setAttribute('font-size','12');sp.textContent='\u2212'+(-d);t.appendChild(sp);
  });
  periodTicks.forEach(p=>{const y=Y(Math.log2(p));
    const a=mk('line',{x1:1183,x2:1192,y1:y,y2:y,stroke:'#000'});
    
    
    const b=mk('line',{x1:1031,x2:1036,y1:y,y2:y,stroke:'#000'});
    
    });
}
specPanel({name:'spectrum-loop-1',y0:580,y1:842,Y:l=>616+(10-l)*36.2,clip:'#clipS1',P:spec1P,cwt:spec1Cwt,sig:spec1Sig,noise:spec1Noise,fftP:fft1P,fftA:fft1A});
specPanel({name:'spectrum-loop-2',y0:894,y1:1157,Y:l=>903+(10-l)*40.5,clip:'#clipS2',P:spec2P,cwt:spec2Cwt,sig:spec2Sig,noise:spec2Noise,fftP:fft2P,fftA:fft2A});
e=txt('Amplitude [(Mm)]',1111,1205,17,'middle');


const sl=mk('g',{});


mk('rect',{x:1033,y:476,width:154,height:97,rx:3,fill:'#fff',stroke:'#d0d0d0'},sl);
const legItems=[['2*|FFT|/N','#888',1.4,''],['Noise model','#888',2.2,'6,3'],['CWT','#000',2.4,''],['95.0% signif','#000',2.2,'6,3']];
legItems.forEach((it,i)=>{const y=500+i*21;
  mk('line',{x1:1042,x2:1071,y1:y-5,y2:y-5,stroke:it[1],'stroke-width':it[2],'stroke-dasharray':it[3]||'none'},sl);
  const t=txt(it[0],1080,y,14,'start',sl);
  
  
});
</script>
</body></html>
